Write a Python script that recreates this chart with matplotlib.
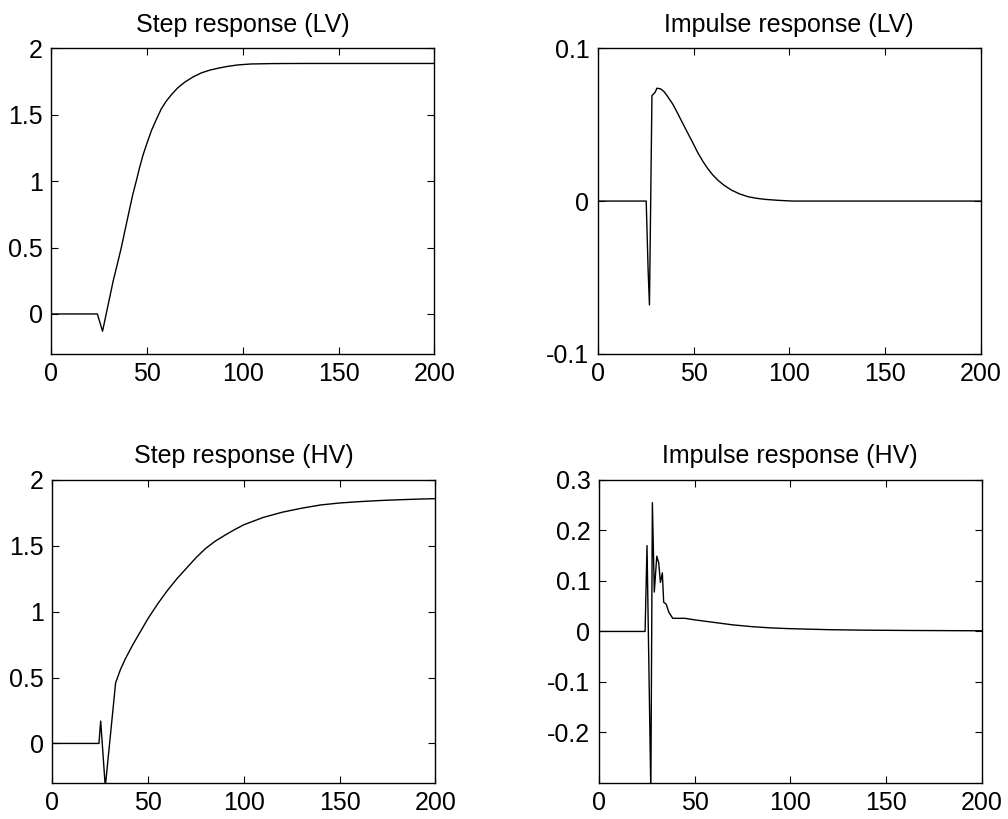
import matplotlib
matplotlib.use('Agg')
import matplotlib.pyplot as plt

plt.rcParams['font.family'] = ['Liberation Sans', 'DejaVu Sans']

# step response, low volume
t_step_lv = [0, 24, 26.7, 27.8, 30, 32.2, 34.5, 36.5, 38.5, 40.9, 42.5, 44.3, 46, 47.8, 50, 52.2,
             54.8, 57.4, 60, 62.6, 66, 69.6, 74, 78.3, 82.5, 87, 92, 97.4, 104, 115, 130, 200]
y_step_lv = [0, 0, -0.13, -0.055, 0.095, 0.245, 0.38, 0.50, 0.635, 0.795, 0.90, 1.00, 1.10, 1.195,
             1.29, 1.38, 1.465, 1.545, 1.603, 1.65, 1.703, 1.745, 1.785, 1.815, 1.835, 1.85, 1.864,
             1.875, 1.882, 1.885, 1.886, 1.886]

# impulse response, low volume
t_imp_lv = [0, 25.3, 26.3, 27, 28.3, 30, 30.9, 32.7, 34.5, 36.2, 39, 41.5, 44, 46.8, 49.5, 52.1,
            54.8, 57.4, 60, 62.7, 66, 69.8, 74, 78.6, 83, 87.5, 94, 101.6, 200]
y_imp_lv = [0, 0, -0.045, -0.068, 0.069, 0.0713, 0.0739, 0.0735, 0.0718, 0.069, 0.0638, 0.058,
            0.0518, 0.045, 0.0385, 0.032, 0.0262, 0.0213, 0.0172, 0.0137, 0.0103, 0.0072, 0.0047,
            0.0028, 0.0018, 0.0011, 0.0005, 0, 0]

# step response, high volume
t_step_hv = [0, 24.3, 25.2, 27.6, 33, 35.5, 38, 42, 46, 50, 55, 60, 65, 70, 75, 80, 85, 90, 95,
             100, 110, 120, 130, 140, 150, 160, 170, 180, 190, 200]
y_step_hv = [0, 0, 0.17, -0.33, 0.46, 0.56, 0.64, 0.75, 0.85, 0.95, 1.06, 1.16, 1.25, 1.33,
             1.41, 1.48, 1.535, 1.58, 1.622, 1.66, 1.715, 1.755, 1.785, 1.81, 1.825, 1.835, 1.843,
             1.849, 1.854, 1.858]

# impulse response, high volume
t_imp_hv = [0, 24.2, 25.2, 27.2, 28, 29, 30.3, 31.3, 32.2, 33.2, 33.9, 35.2, 36.6, 37.8, 38.6,
            45, 50, 60, 70, 80, 90, 100, 120, 140, 160, 200]
y_imp_hv = [0, 0, 0.17, -0.32, 0.255, 0.078, 0.149, 0.136, 0.097, 0.116, 0.058, 0.054, 0.038,
            0.031, 0.026, 0.026, 0.023, 0.018, 0.013, 0.0095, 0.007, 0.0055, 0.0035, 0.0025,
            0.002, 0.0013]

panels = [
    ('Step response (LV)', t_step_lv, y_step_lv, (-0.3, 2), [0, 0.5, 1, 1.5, 2], ['0', '0.5', '1', '1.5', '2']),
    ('Impulse response (LV)', t_imp_lv, y_imp_lv, (-0.1, 0.1), [-0.1, 0, 0.1], ['-0.1', '0', '0.1']),
    ('Step response (HV)', t_step_hv, y_step_hv, (-0.3, 2), [0, 0.5, 1, 1.5, 2], ['0', '0.5', '1', '1.5', '2']),
    ('Impulse response (HV)', t_imp_hv, y_imp_hv, (-0.3, 0.3), [-0.2, -0.1, 0, 0.1, 0.2, 0.3],
     ['-0.2', '-0.1', '0', '0.1', '0.2', '0.3']),
]

# axes boxes [left, bottom, width, height] in figure fractions
boxes = [
    [0.051, 0.568, 0.380, 0.373],
    [0.593, 0.568, 0.380, 0.373],
    [0.052, 0.044, 0.380, 0.370],
    [0.594, 0.044, 0.380, 0.370],
]

fig = plt.figure(figsize=(10.08, 8.19), dpi=100)
for (title, t, y, ylim, yt, ytl), box in zip(panels, boxes):
    ax = fig.add_axes(box)
    ax.plot(t, y, color='black', linewidth=1.0)
    ax.set_xlim(0, 200)
    ax.set_ylim(*ylim)
    ax.set_xticks([0, 50, 100, 150, 200])
    ax.set_yticks(yt)
    ax.set_yticklabels(ytl)
    ax.tick_params(direction='in', top=True, right=True, length=5, width=0.8,
                   labelsize=18, pad=6)
    for s in ax.spines.values():
        s.set_linewidth(1.0)
    ax.set_title(title, fontsize=18, pad=12)

fig.savefig('out.png', dpi=100)
